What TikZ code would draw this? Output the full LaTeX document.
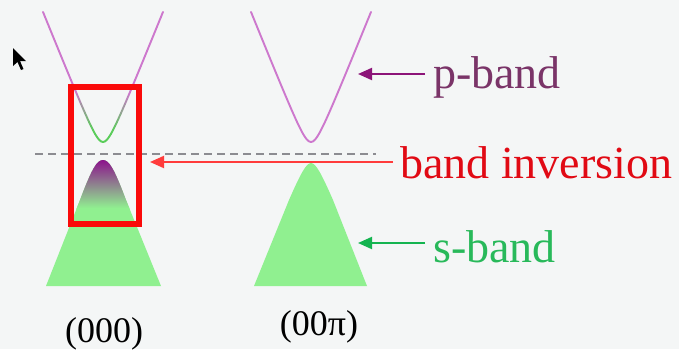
\documentclass[tikz,border=0pt]{standalone}
\usepackage{fontspec}
\setmainfont{Liberation Serif}
\usetikzlibrary{arrows.meta}
\definecolor{bg}{RGB}{244,246,246}
\definecolor{pline}{RGB}{205,120,205}
\definecolor{gline}{RGB}{90,205,90}
\definecolor{gfill}{RGB}{144,240,144}
\definecolor{purp}{RGB}{140,10,140}
\definecolor{ptext}{RGB}{122,52,104}
\definecolor{parrow}{RGB}{140,20,120}
\definecolor{rtext}{RGB}{225,10,20}
\definecolor{rbox}{RGB}{250,10,10}
\definecolor{rarrow}{RGB}{255,60,60}
\definecolor{stext}{RGB}{40,185,90}
\definecolor{sarrow}{RGB}{20,180,80}
\definecolor{dashc}{RGB}{140,140,145}
\tikzset{
  bandline/.style={line width=1.9pt, line cap=round, line join=round},
  lbl/.style={anchor=base west, inner sep=0pt, font=\fontsize{46}{50}\selectfont},
  klbl/.style={anchor=base, inner sep=0pt, font=\fontsize{36}{40}\selectfont},
  pointer/.style={line width=2pt, -{Triangle[length=14pt,width=12pt]}}
}
\begin{document}
\begin{tikzpicture}[x=1pt,y=-1pt]
\fill[bg] (0,0) rectangle (679,349);
\useasboundingbox (0,0) rectangle (679,349);
% cursor
\fill[black] (13,48) -- (13,66) -- (17.5,62) -- (21,70) -- (23.5,69) -- (20,61) -- (26,61) -- cycle;
% dashed Fermi line
\draw[dashc, line width=2.4pt, dash pattern=on 8pt off 5pt] (35,154) -- (376,154);
% left green valence shape
\begin{scope}
\clip (46,286) -- (80,200) .. controls (92,168) and (97,160) .. (103,160) .. controls (109,160) and (114,168) .. (126,200) -- (161,286) -- cycle;
\fill[gfill] (40,150) rectangle (170,290);
\shade[top color=purp, bottom color=gfill] (40,158) rectangle (170,208);
\end{scope}
% left conduction curve with colour gradient
\foreach \i in {-60,-58,...,58}{
  \pgfmathsetmacro\xa{103+\i}
  \pgfmathsetmacro\xb{105+\i}
  \pgfmathsetmacro\ya{142-2.476*(sqrt(64+\i*\i)-8)}
  \pgfmathsetmacro\yb{142-2.476*(sqrt(64+(\i+2)*(\i+2))-8)}
  \pgfmathsetmacro\hh{142-(\ya+\yb)/2}
  \pgfmathtruncatemacro\tt{max(0,min(100,(50-\hh)/38*100))}
  \draw[bandline, color=gline!\tt!pline] (\xa,\ya) -- (\xb,\yb);
}
% right panel
\fill[gfill] (254,286) -- (289,200) .. controls (300,175) and (306,163) .. (311,163) .. controls (316,163) and (322,175) .. (333,200) -- (367,286) -- cycle;
\draw[bandline, pline] plot[domain=-60:60, samples=61] ({311+\x},{142-2.476*(sqrt(64+\x*\x)-8)});
% red box
\draw[rbox, line width=6pt] (71,86.5) rectangle (139,224);
% labels
\node[lbl, text=ptext] (pb) at (433,88) {p-band};
\node[lbl, text=rtext] (bi) at (400,178) {band inversion};
\node[lbl, text=stext] (sb) at (433,262) {s-band};
\node[klbl] (g0) at (104,342) {(000)};
\node[klbl] (gpi) at (319,335) {(00π)};
% pointers
\coordinate (ptip) at (358,74);
\coordinate (rtip) at (150,162);
\coordinate (stip) at (358,243);
\draw[pointer, parrow] ([xshift=-8pt]pb.west |- ptip) -- (ptip);
\draw[pointer, rarrow] ([xshift=-7pt]bi.west |- rtip) -- (rtip);
\draw[pointer, sarrow] ([xshift=-8pt]sb.west |- stip) -- (stip);
\end{tikzpicture}
\end{document}
